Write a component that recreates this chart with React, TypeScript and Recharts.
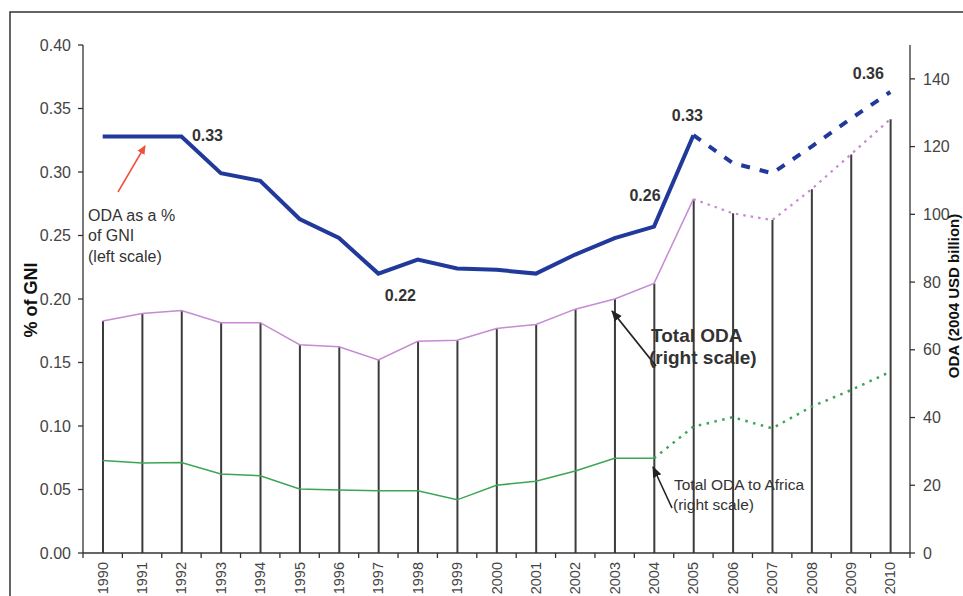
import React from 'react';
import { ComposedChart, Line, Bar, XAxis, YAxis, LabelList } from 'recharts';

const years = ['1990','1991','1992','1993','1994','1995','1996','1997','1998','1999','2000','2001','2002','2003','2004','2005','2006','2007','2008','2009','2010'];
const odaGniPct = [0.328, 0.328, 0.328, 0.299, 0.293, 0.263, 0.248, 0.220, 0.231, 0.224, 0.223, 0.220, 0.235, 0.248, 0.257, 0.329, 0.307, 0.299, 0.320, 0.342, 0.363];
const totalOda = [68.5, 70.7, 71.6, 68.0, 68.0, 61.5, 60.9, 57.0, 62.5, 62.8, 66.3, 67.5, 72.0, 75.0, 79.6, 104.5, 100.3, 98.3, 107.4, 117.7, 128.1];
const africaOda = [27.3, 26.6, 26.7, 23.3, 22.8, 18.9, 18.6, 18.4, 18.4, 15.7, 20.0, 21.2, 24.2, 28.0, 28.0, 37.3, 40.1, 36.8, 43.2, 48.1, 53.5];
const gniLabels = ['', '', '0.33', '', '', '', '', '0.22', '', '', '', '', '', '', '0.26', '0.33', '', '', '', '', '0.36'];
const leftTicks = [0, 0.05, 0.1, 0.15, 0.2, 0.25, 0.3, 0.35, 0.4];
const rightTicks = [0, 20, 40, 60, 80, 100, 120, 140];
const gniLastActual = '2005';
const totalLastActual = '2005';
const africaLastActual = '2004';

const W = 963;
const H = 596;
const PLOT_L = 83;
const PLOT_R = 910;
const PLOT_T = 45;
const PLOT_B = 553;
const HALF_BAND = (PLOT_R - PLOT_L) / years.length / 2;
const FONT = '"Liberation Sans", Arial, sans-serif';

const gniIdx = years.indexOf(gniLastActual);
const totIdx = years.indexOf(totalLastActual);
const afrIdx = years.indexOf(africaLastActual);

const data = years.map((y, i) => ({
  year: y,
  gni: odaGniPct[i],
  gniSolid: i <= gniIdx ? odaGniPct[i] : null,
  gniDash: i >= gniIdx ? odaGniPct[i] : null,
  total: totalOda[i],
  totalSolid: i <= totIdx ? totalOda[i] : null,
  totalDot: i >= totIdx ? totalOda[i] : null,
  africaSolid: i <= afrIdx ? africaOda[i] : null,
  africaDot: i >= afrIdx ? africaOda[i] : null,
}));

const labelOffsets: Record<string, [number, number]> = {
  '1992': [26, 5],
  '1997': [22, 27],
  '2004': [-9, -26],
  '2005': [-6, -14],
  '2010': [-22, -13],
};

const GniLabel = (props: any) => {
  const { x, y, index } = props;
  const txt = gniLabels[index];
  if (!txt) return null;
  const off = labelOffsets[years[index]] || [0, 0];
  return (
    <text x={x + off[0]} y={y + off[1]} textAnchor="middle" fontSize={16} fontWeight="bold" fill="#333" fontFamily={FONT}>
      {txt}
    </text>
  );
};

const XTick = (props: any) => {
  const { x, y, payload, index } = props;
  const isLast = index === years.length - 1;
  return (
    <g>
      <line x1={x - HALF_BAND} x2={x - HALF_BAND} y1={PLOT_B} y2={PLOT_B + 5} stroke="#333" strokeWidth={1.3} />
      {isLast ? <line x1={x + HALF_BAND} x2={x + HALF_BAND} y1={PLOT_B} y2={PLOT_B + 5} stroke="#333" strokeWidth={1.3} /> : null}
      <text
        x={x + 5}
        y={y}
        transform={`rotate(-90, ${x + 5}, ${y})`}
        textAnchor="end"
        fontSize={14.5}
        fill="#444"
        fontFamily={FONT}
      >
        {payload.value}
      </text>
    </g>
  );
};

export default function App() {
  const tickStyle = { fontSize: 16, fill: '#444', fontFamily: FONT };
  return (
    <div style={{ position: 'absolute', left: 0, top: 0, width: W, height: H, overflow: 'hidden', background: '#fff' }}>
      <ComposedChart width={W} height={H} data={data} margin={{ top: PLOT_T, right: 0, bottom: 0, left: 0 }}>
        <XAxis
          dataKey="year"
          height={H - PLOT_B}
          interval={0}
          tickLine={false}
          tickSize={5}
          tickMargin={4}
          axisLine={{ stroke: '#333', strokeWidth: 1.3 }}
          tick={<XTick />}
        />
        <XAxis xAxisId="top" dataKey="year" orientation="top" height={0} tick={false} tickLine={false} axisLine={{ stroke: '#333', strokeWidth: 1.3 }} />
        <YAxis
          yAxisId="left"
          width={PLOT_L}
          domain={[0, 0.4]}
          ticks={leftTicks}
          tickFormatter={(v: number) => v.toFixed(2)}
          tickSize={5}
          tickMargin={7}
          tick={tickStyle}
          axisLine={{ stroke: '#333', strokeWidth: 1.3 }}
          tickLine={{ stroke: '#333', strokeWidth: 1.3 }}
          allowDataOverflow
        />
        <YAxis
          yAxisId="right"
          orientation="right"
          width={W - PLOT_R}
          domain={[0, 150]}
          ticks={rightTicks}
          tickSize={5}
          tickMargin={8}
          tick={tickStyle}
          axisLine={{ stroke: '#333', strokeWidth: 1.3 }}
          tickLine={{ stroke: '#333', strokeWidth: 1.3 }}
          allowDataOverflow
        />
        <Bar yAxisId="right" dataKey="total" barSize={2} fill="#3c3c3c" isAnimationActive={false} />
        <Line yAxisId="right" dataKey="totalSolid" stroke="#c58bd3" strokeWidth={1.5} dot={false} isAnimationActive={false} />
        <Line yAxisId="right" dataKey="totalDot" stroke="#c58bd3" strokeWidth={2.2} strokeDasharray="2.5 5" dot={false} isAnimationActive={false} />
        <Line yAxisId="right" dataKey="africaSolid" stroke="#3aa655" strokeWidth={1.5} dot={false} isAnimationActive={false} />
        <Line yAxisId="right" dataKey="africaDot" stroke="#3aa655" strokeWidth={2.5} strokeDasharray="2.5 5.5" dot={false} isAnimationActive={false} />
        <Line yAxisId="left" dataKey="gniSolid" stroke="#21399a" strokeWidth={4} dot={false} isAnimationActive={false} />
        <Line yAxisId="left" dataKey="gniDash" stroke="#21399a" strokeWidth={4} strokeDasharray="9 10" dot={false} isAnimationActive={false} />
        <Line yAxisId="left" dataKey="gni" stroke="none" dot={false} isAnimationActive={false} legendType="none">
          <LabelList dataKey="gni" content={<GniLabel />} />
        </Line>
      </ComposedChart>
      <svg width={W} height={H} style={{ position: 'absolute', left: 0, top: 0, pointerEvents: 'none' }}>
        <defs>
          <marker id="arrRed" markerWidth="10" markerHeight="10" refX="8" refY="5" orient="auto" markerUnits="userSpaceOnUse">
            <path d="M0,1 L9,5 L0,9 z" fill="#f0503a" />
          </marker>
          <marker id="arrBlk" markerWidth="12" markerHeight="12" refX="10" refY="6" orient="auto" markerUnits="userSpaceOnUse">
            <path d="M0,1.5 L11,6 L0,10.5 z" fill="#222" />
          </marker>
        </defs>
        <path d={`M10,${H + 2} L10,12 L${W + 2},12`} fill="none" stroke="#333" strokeWidth={1.5} />
        <text x={37} y={300} transform="rotate(-90, 37, 300)" textAnchor="middle" fontSize={18} fontWeight="bold" fill="#111" fontFamily={FONT}>% of GNI</text>
        <text x={959} y={296} transform="rotate(-90, 959, 296)" textAnchor="middle" fontSize={15} fontWeight="bold" fill="#111" fontFamily={FONT}>ODA (2004 USD billion)</text>
        <line x1={118} y1={192} x2={145} y2={146} stroke="#f0503a" strokeWidth={1.5} markerEnd="url(#arrRed)" />
        <text fontSize={16} fill="#333" fontFamily={FONT}>
          <tspan x={88} y={221}>ODA as a %</tspan>
          <tspan x={88} y={241}>of GNI</tspan>
          <tspan x={88} y={262}>(left scale)</tspan>
        </text>
        <line x1={656} y1={366} x2={612} y2={311} stroke="#222" strokeWidth={1.8} markerEnd="url(#arrBlk)" />
        <text fontSize={19} fontWeight="bold" fill="#333" fontFamily={FONT}>
          <tspan x={651} y={342}>Total ODA</tspan>
          <tspan x={649} y={364}>(right scale)</tspan>
        </text>
        <line x1={672} y1={508} x2={653} y2={467} stroke="#222" strokeWidth={1.6} markerEnd="url(#arrBlk)" />
        <text fontSize={15.5} fill="#333" fontFamily={FONT}>
          <tspan x={674} y={490}>Total ODA to Africa</tspan>
          <tspan x={673} y={510}>(right scale)</tspan>
        </text>
      </svg>
    </div>
  );
}
